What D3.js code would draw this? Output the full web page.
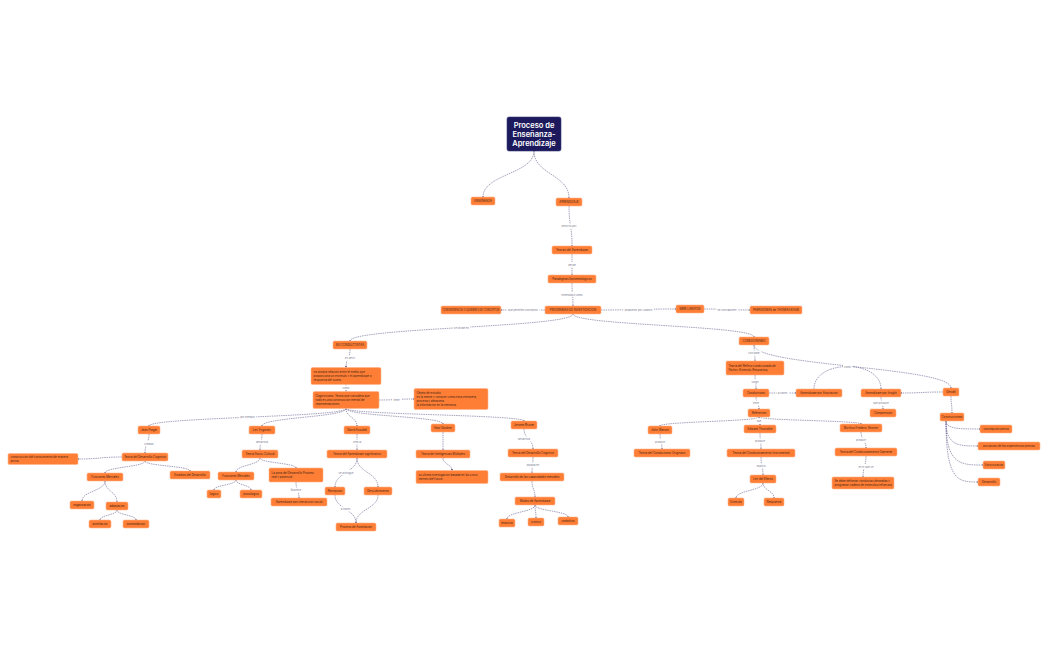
<!DOCTYPE html>
<html><head><meta charset="utf-8">
<script src="https://cdn.jsdelivr.net/npm/d3@7"></script>
<style>body{margin:0;background:#fff}</style></head>
<body><svg id="c" width="1050" height="650"></svg>
<script>
// node labels
const nodeLabels = [
["root","Proceso de|Enseñanza-|Aprendizaje"],
["ens","ENSEÑANZA"],["apr","APRENDIZAJE"],["teo","Teorías del Aprendizaje"],["par","Paradigmas Epistemológicos"],
["conv","CONVERGENCIA O QUIEBRES DE CONCEPTOS"],["prog","PROGRAMAS DE INVESTIGACIÓN"],["imre","IMRE LAKATOS"],["khun","PARADIGMAS de THOMAS KHUN"],
["noc","NO CONDUCTISTAS"],["conex","CONEXIONISMO"],
["noac","no acepta relación entre el medio que|proporciona un estímulo y el aprendizaje o|respuesta del sujeto."],
["cog","Cognitivismo: Teoría que considera que|todo es una construcción mental de|representaciones."],
["obj","Objeto de estudio|es la mente y conocer cómo ésta interpreta,|procesa y almacena|la información en la memoria."],
["piaget","Jean Piaget"],["vyg","Lev Vygotsky"],["aus","David Ausubel"],["gard","How Gardner"],["brun","Jerome Bruner"],
["tdc","Teoría del Desarrollo Cognitivo"],["activa","construcción del conocimiento de manera|activa"],
["fm1","Funciones Mentales"],["est","Estadios del Desarrollo"],["org","organización"],["adap","adaptación"],["asim","asimilación"],["acom","acomodación"],
["tsc","Teoría Socio-Cultural"],["fm2","Funciones Mentales"],["zdp","La zona del Desarrollo Próximo|real y potencial"],["log","lógico"],["psi","psicológico"],["ais","Aprendizaje por interacción social"],
["tas","Teoría del Aprendizaje significativo"],["rec","Recepción"],["desc","Descubrimiento"],["pasim","Proceso de Asimilación"],
["tim","Teoría de Inteligencias Múltiples"],["cinco","su última investigación basada en las cinco|mentes del futuro"],
["tdcb","Teoría del Desarrollo Cognitivo"],["dcm","Desarrollo de las capacidades mentales"],["modos","Modos de Aprendizaje"],["enac","enactivo"],["icon","icónico"],["simb","simbólico"],
["pav","Teoría del Reflejo condicionado de|Pavlov     (Estímulo-Respuesta)"],["condu","Conductismo"],["asoc","Aprendizaje por Asociación"],["ins","Aprendizaje por Insight"],["comp","Comprensión"],["gest","Gestalt"],
["ref","Referentes"],["wat","John Watson"],["thor","Edward Thorndike"],["skin","Burrhus Frederic Skinner"],
["tco","Teoría del Conductismo Originario"],["tci","Teoría del Condicionamiento Instrumental"],["tcop","Teoría del Condicionamiento Operante"],
["ley","Ley del Efecto"],["estim","Estímulo"],["resp","Respuesta"],["deli","Se debe delimitar conductas deseadas y|programar cadena de estímulos/refuerzos"],
["cons","Constructivismo"],["cpre","concepción previa"],["actv","activación de las experiencias previas"],["estr","Estructuración"],["desa","Desarrollo"]
];
// layout: id, cx, cy, w, h
const layout = [
["root",534,134,54,34],["ens",483,201,24,8],["apr",569,202,26,8],["teo",572,250,40,8],["par",572,279,48,8],
["conv",471,310,60,8],["prog",573,310,56,8],["imre",690,309,28,8],["khun",776,310,52,8],
["noc",350,345,34,8],["conex",754,341,30,8],["noac",346,376,70,17],["cog",346,400,66,17],["obj",451,399,74,21],
["piaget",149,430,22,8],["vyg",262,430,26,8],["aus",357,430,26,8],["gard",443,428,24,8],["brun",524,425,26,8],
["tdc",145,457,46,8],["activa",43,459,70,11],["fm1",105,477,36,8],["est",190,475,40,8],["org",82,505,24,8],["adap",117,506,22,8],["asim",100,524,22,8],["acom",136,524,26,8],
["tsc",260,454,36,8],["fm2",236,476,36,8],["zdp",296,475,54,14],["log",214,494,14,8],["psi",251,494,22,8],["ais",299,502,56,8],
["tas",357,454,60,8],["rec",335,491,20,8],["desc",378,491,28,8],["pasim",356,527,40,8],
["tim",443,454,54,8],["cinco",452,477,72,13],
["tdcb",533,453,50,8],["dcm",532,477,64,8],["modos",535,501,40,8],["enac",507,523,16,8],["icon",536,522,16,8],["simb",568,521,20,8],
["pav",755,368,58,14],["condu",756,393,26,8],["asoc",819,393,46,8],["ins",881,393,40,8],["comp",883,413,26,8],["gest",951,392,16,8],
["ref",759,413,22,8],["wat",660,430,24,8],["thor",760,429,32,8],["skin",861,428,42,8],
["tco",662,453,56,8],["tci",761,453,68,8],["tcop",866,452,62,8],["ley",763,479,26,8],["estim",736,502,16,8],["resp",774,502,20,8],["deli",863,483,62,12],
["cons",952,417,24,8],["cpre",996,429,32,8],["actv",1009,446,62,8],["estr",994,465,22,8],["desa",989,482,22,8]
];
// edges: from, to, label, kind
const edges = [
["root","ens","","v"],["root","apr","","v"],["apr","teo","descrito por","v"],["teo","par","desde","v"],["par","prog","entendidos como","v"],
["prog","conv","que permiten conceptos","h"],["prog","imre","propuesto por Lakatos","h"],["imre","khun","se contraponen","h"],
["prog","noc","se divide en","v"],["prog","conex","","v"],["noc","noac","es decir","v"],["noac","cog","como","v"],["cog","obj","tiene","h"],
["cog","piaget","por ejemplo","v"],["cog","vyg","","v"],["cog","aus","","v"],["cog","gard","","v"],["cog","brun","","v"],
["piaget","tdc","creador","v"],["tdc","activa","","h"],["tdc","fm1","","v"],["tdc","est","","v"],["fm1","org","","v"],["fm1","adap","","v"],["adap","asim","","v"],["adap","acom","","v"],
["vyg","tsc","desarrolla","v"],["tsc","fm2","","v"],["tsc","zdp","","v"],["fm2","log","","v"],["fm2","psi","","v"],["zdp","ais","favorece","v"],
["aus","tas","crea la","v"],["tas","rec","se distingue","v"],["tas","desc","","v"],["rec","pasim","a través","v"],["desc","pasim","","v"],
["gard","tim","","v"],["tim","cinco","","v"],
["brun","tdcb","desarrolla","v"],["tdcb","dcm","basada en","v"],["dcm","modos","","v"],["modos","enac","","v"],["modos","icon","","v"],["modos","simb","","v"],
["conex","pav","con base","v"],["conex","gest","","v"],["pav","condu","surge","v"],["condu","asoc","a través","h"],["asoc","ins","","a"],["gest","ins","","h"],["ins","comp","que produce","v"],
["condu","ref","tiene","v"],["ref","wat","","v"],["ref","thor","que","v"],["ref","skin","","v"],
["wat","tco","produce","v"],["thor","tci","produce","v"],["tci","ley","explica","v"],["ley","estim","","v"],["ley","resp","","v"],
["skin","tcop","produce","v"],["tcop","deli","en el que se","v"],["gest","cons","","v"],
["cons","cpre","","l"],["cons","actv","","l"],["cons","estr","","l"],["cons","desa","","l"]
];

const svg = d3.select("#c");
const L = new Map(layout.map(d=>[d[0],{x:d[1],y:d[2],w:d[3],h:d[4]}]));
const lab = new Map(nodeLabels);
const defs = svg.append("defs");
defs.append("marker").attr("id","ar").attr("viewBox","0 0 6 6").attr("refX",5).attr("refY",3)
 .attr("markerWidth",3.5).attr("markerHeight",3.5).attr("orient","auto")
 .append("path").attr("d","M0,0L6,3L0,6Z").attr("fill","#33305e");

const gE = svg.append("g"), gN = svg.append("g"), gL = svg.append("g");
edges.forEach(([a,b,t,k])=>{
  const s=L.get(a), e=L.get(b); let p, mx, my;
  if(k==="v"){
    const x1=s.x, y1=s.y+s.h/2, x2=e.x, y2=e.y-e.h/2, dy=(y2-y1);
    p=`M${x1},${y1}C${x1},${y1+dy*0.5} ${x2},${y2-dy*0.5} ${x2},${y2}`;
    mx=(x1+x2)/2; my=(y1+y2)/2;
    if(Math.abs(x2-x1)<20){mx=x1; }
  } else if(k==="h"){
    const dir=e.x>s.x?1:-1;
    const x1=s.x+dir*s.w/2, y1=s.y, x2=e.x-dir*e.w/2, y2=e.y, dx=x2-x1;
    p=`M${x1},${y1}C${x1+dx*0.5},${y1} ${x2-dx*0.5},${y2} ${x2},${y2}`;
    mx=(x1+x2)/2; my=(y1+y2)/2;
  } else if(k==="a"){
    const x1=s.x-5, y1=s.y-s.h/2, x2=e.x, y2=e.y-e.h/2;
    p=`M${x1},${y1}C${x1},${y1-30} ${x2},${y2-30} ${x2},${y2}`;
    mx=(x1+x2)/2; my=y1-22; t="como";
  } else {
    const x1=s.x-s.w/2+6, y1=s.y+s.h/2, x2=e.x-e.w/2, y2=e.y;
    p=`M${x1},${y1}C${x1},${y2} ${x1+ (x2-x1)*0.4},${y2} ${x2},${y2}`;
  }
  gE.append("path").attr("d",p).attr("fill","none").attr("stroke","#4a477a").attr("stroke-width",0.5)
   .attr("stroke-dasharray","1.5,0.8").attr("marker-end","url(#ar)");
  if(t){
    const tx=gL.append("text").attr("x",mx).attr("y",my+1).attr("text-anchor","middle")
      .attr("font-family","Inter, sans-serif").attr("font-size",2.6).attr("fill","#7a7990").text(t);
    const bb=tx.node().getBBox();
    gL.insert("rect","text").attr("x",bb.x-1).attr("y",bb.y-0.5).attr("width",bb.width+2).attr("height",bb.height+1).attr("fill","#fff");
  }
});
gL.selectAll("text").raise();

nodeLabels.forEach(([id])=>{
  const n=L.get(id), isRoot=id==="root";
  const lines=lab.get(id).split("|");
  const g=gN.append("g");
  g.append("rect").attr("x",n.x-n.w/2).attr("y",n.y-n.h/2).attr("width",n.w).attr("height",n.h).attr("rx",isRoot?2:1.5)
   .attr("fill",isRoot?"#1c1a5c":"#ff7e36").attr("stroke",isRoot?"#3b3a7a":"#ffb38a").attr("stroke-width",0.6);
  const fs=isRoot?7.5:2.9, lh=isRoot?9:3.8;
  const multi=lines.length>1 && !isRoot;
  lines.forEach((ln,i)=>{
    const t=g.append("text").attr("x",multi?n.x-n.w/2+2.5:n.x)
     .attr("y",n.y+(i-(lines.length-1)/2)*lh+fs*0.35)
     .attr("text-anchor",multi?"start":"middle").attr("font-family","Inter, sans-serif")
     .attr("font-size",fs).attr("font-weight",isRoot?600:400).attr("fill",isRoot?"#fff":"#3a2212").text(ln);
    const maxW=n.w-(multi?4:3);
    if(t.node().getComputedTextLength()>maxW) t.attr("textLength",maxW).attr("lengthAdjust","spacingAndGlyphs");
  });
});
</script></body></html>
